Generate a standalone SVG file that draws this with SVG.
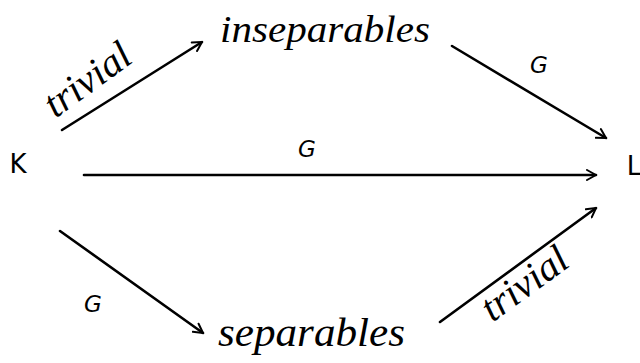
<svg xmlns="http://www.w3.org/2000/svg" width="640" height="363" viewBox="0 0 640 363">
<style>
.hw{font-family:"Liberation Serif",serif;font-style:italic;fill:#000}
.lbl{font-family:"DejaVu Sans",sans-serif;font-style:italic;fill:#000;text-anchor:middle}
.node{font-family:"DejaVu Sans",sans-serif;font-style:normal;fill:#000;text-anchor:middle}
.edge{stroke:#000;stroke-width:2.6;fill:none;stroke-linecap:round;marker-end:url(#ah)}
</style>
<defs>
<marker id="ah" viewBox="0 0 12 12" refX="10" refY="6" markerWidth="12" markerHeight="12" markerUnits="userSpaceOnUse" orient="auto">
<path d="M1,1 L10,6 L1,11" fill="none" stroke="#000" stroke-width="2" stroke-linecap="round" stroke-linejoin="round"/>
</marker>
</defs>
<rect width="640" height="363" fill="#fff"/>
<g id="node-K"><text class="node" x="18" y="173" font-size="26">K</text></g>
<g id="node-L"><text class="node" x="634" y="175" font-size="26">L</text></g>
<g id="node-inseparables"><text class="hw" x="220" y="42" font-size="38" textLength="210" lengthAdjust="spacingAndGlyphs">inseparables</text></g>
<g id="node-separables"><text class="hw" x="218" y="346" font-size="40" textLength="187" lengthAdjust="spacingAndGlyphs">separables</text></g>
<g id="connectors">
<line class="edge" x1="62" y1="130" x2="202" y2="42"/>
<line class="edge" x1="452" y1="46" x2="606" y2="138"/>
<line class="edge" x1="84" y1="175" x2="596" y2="175"/>
<line class="edge" x1="60" y1="231" x2="203" y2="333"/>
<line class="edge" x1="440" y1="322" x2="596" y2="208"/>
<text class="hw" font-size="40" text-anchor="middle" transform="translate(95,90) rotate(-36)">trivial</text>
<text class="hw" font-size="40" text-anchor="middle" transform="translate(532,294) rotate(-36)">trivial</text>
<text class="lbl" x="539" y="73" font-size="23">G</text>
<text class="lbl" x="307" y="157" font-size="23">G</text>
<text class="lbl" x="93" y="312" font-size="23">G</text>
</g>
</svg>
